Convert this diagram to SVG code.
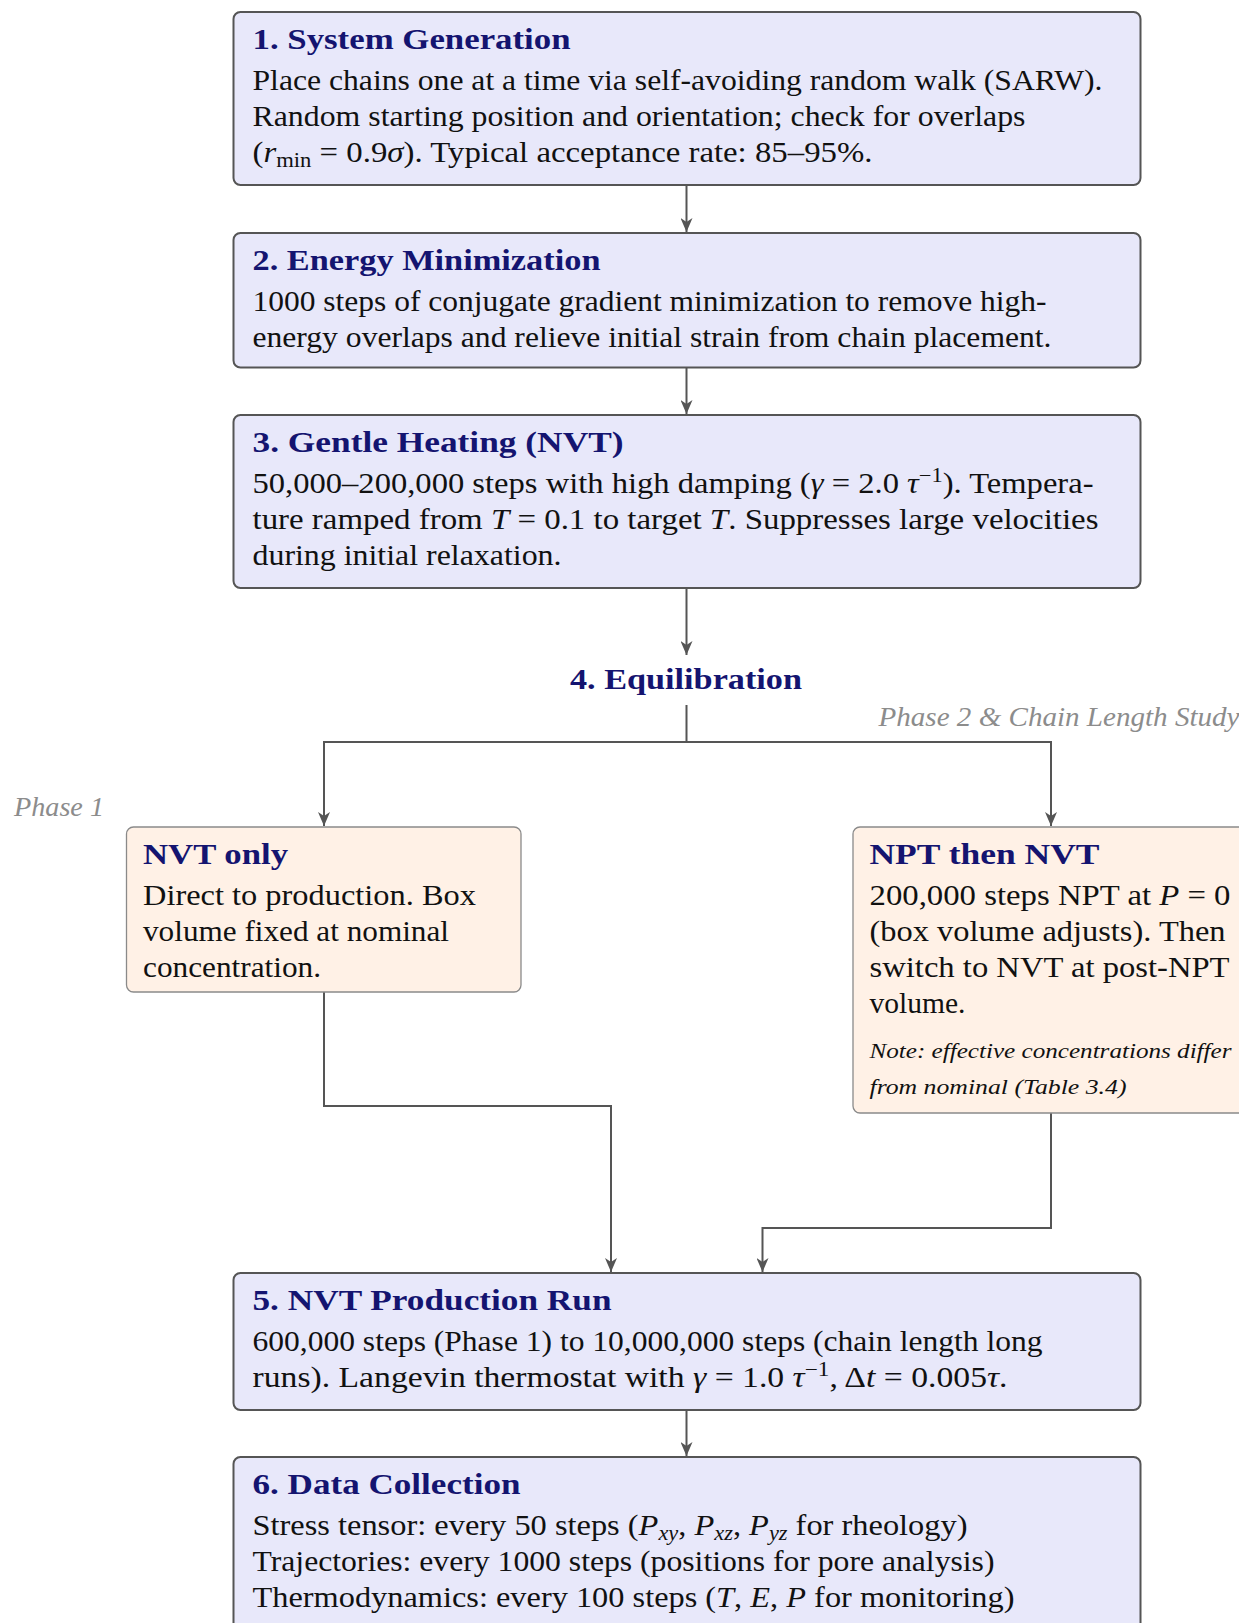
<svg xmlns="http://www.w3.org/2000/svg" width="1239" height="1623" viewBox="0 0 1239 1623">
<style>
.main{fill:#e8e8fa;stroke:#555;stroke-width:2}
.alt{fill:#fff1e6;stroke:#8a8a8a;stroke-width:1.3}
.ttl{font-family:"Liberation Serif",serif;font-weight:bold;font-size:29px;fill:#141470}
.txt{font-family:"Liberation Serif",serif;font-size:29px;fill:#111}
.note{font-family:"Liberation Serif",serif;font-style:italic;font-size:21px;fill:#111}
.ph{font-family:"Liberation Serif",serif;font-style:italic;font-size:27px;fill:#8c8c8c}
.i{font-style:italic}
.con{fill:none;stroke:#555;stroke-width:2}
</style>
<defs>
<marker id="ar" markerUnits="userSpaceOnUse" markerWidth="15" markerHeight="12" viewBox="0 0 15 12" refX="14" refY="6" orient="auto">
<path d="M0,0 L14,6 L0,12 L4,6 Z" fill="#555"/>
</marker>
</defs>

<g id="connectors">
<path class="con" d="M686.5,185 V232" marker-end="url(#ar)"/>
<path class="con" d="M686.5,367.5 V414" marker-end="url(#ar)"/>
<path class="con" d="M686.5,588 V655" marker-end="url(#ar)"/>
<path class="con" d="M686.5,705 V742 H324 V826" marker-end="url(#ar)"/>
<path class="con" d="M686.5,742 H1051 V826" marker-end="url(#ar)"/>
<path class="con" d="M324,992 V1106 H611 V1272" marker-end="url(#ar)"/>
<path class="con" d="M1051,1113 V1228 H762.5 V1272" marker-end="url(#ar)"/>
<path class="con" d="M686.5,1410 V1456" marker-end="url(#ar)"/>
</g>

<g id="n1">
<rect class="main" x="233.5" y="12" width="907" height="173" rx="7"/>
<text class="ttl" x="252.5" y="49" textLength="318" lengthAdjust="spacingAndGlyphs">1. System Generation</text>
<text class="txt" x="252.5" y="90" textLength="850" lengthAdjust="spacingAndGlyphs">Place chains one at a time via self-avoiding random walk (SARW).</text>
<text class="txt" x="252.5" y="126" textLength="773" lengthAdjust="spacingAndGlyphs">Random starting position and orientation; check for overlaps</text>
<text class="txt" x="252.5" y="162" textLength="620" lengthAdjust="spacingAndGlyphs">(<tspan class="i">r</tspan><tspan dy="5" font-size="20">min</tspan><tspan dy="-5"> = 0.9</tspan><tspan class="i">σ</tspan>).  Typical acceptance rate:  85–95%.</text>
</g>

<g id="n2">
<rect class="main" x="233.5" y="233" width="907" height="134.5" rx="7"/>
<text class="ttl" x="252.5" y="270" textLength="348" lengthAdjust="spacingAndGlyphs">2. Energy Minimization</text>
<text class="txt" x="252.5" y="311" textLength="794" lengthAdjust="spacingAndGlyphs">1000 steps of conjugate gradient minimization to remove high-</text>
<text class="txt" x="252.5" y="347" textLength="799" lengthAdjust="spacingAndGlyphs">energy overlaps and relieve initial strain from chain placement.</text>
</g>

<g id="n3">
<rect class="main" x="233.5" y="415" width="907" height="173" rx="7"/>
<text class="ttl" x="252.5" y="452" textLength="371" lengthAdjust="spacingAndGlyphs">3. Gentle Heating (NVT)</text>
<text class="txt" x="252.5" y="493" textLength="841" lengthAdjust="spacingAndGlyphs">50,000–200,000 steps with high damping (<tspan class="i">γ</tspan> = 2.0 <tspan class="i">τ</tspan><tspan dy="-11" font-size="20">−1</tspan><tspan dy="11">).  Tempera-</tspan></text>
<text class="txt" x="252.5" y="529" textLength="846" lengthAdjust="spacingAndGlyphs">ture ramped from <tspan class="i">T</tspan> = 0.1 to target <tspan class="i">T</tspan>.  Suppresses large velocities</text>
<text class="txt" x="252.5" y="565" textLength="309" lengthAdjust="spacingAndGlyphs">during initial relaxation.</text>
</g>

<g id="n4">
<text class="ttl" x="686" y="689" text-anchor="middle" textLength="232" lengthAdjust="spacingAndGlyphs">4. Equilibration</text>
<text class="ph" x="878.5" y="726" textLength="361" lengthAdjust="spacingAndGlyphs">Phase 2 &amp; Chain Length Study</text>
<text class="ph" x="14" y="816" textLength="90" lengthAdjust="spacingAndGlyphs">Phase 1</text>
</g>

<g id="n4a">
<rect class="alt" x="126.5" y="827" width="394.5" height="165" rx="7"/>
<text class="ttl" x="143" y="864" textLength="145" lengthAdjust="spacingAndGlyphs">NVT only</text>
<text class="txt" x="143" y="905" textLength="333" lengthAdjust="spacingAndGlyphs">Direct to production.  Box</text>
<text class="txt" x="143" y="941" textLength="306" lengthAdjust="spacingAndGlyphs">volume fixed at nominal</text>
<text class="txt" x="143" y="977" textLength="178" lengthAdjust="spacingAndGlyphs">concentration.</text>
</g>

<g id="n4b">
<rect class="alt" x="853" y="827" width="395" height="286" rx="7"/>
<text class="ttl" x="869.5" y="864" textLength="230" lengthAdjust="spacingAndGlyphs">NPT then NVT</text>
<text class="txt" x="869.5" y="905" textLength="361" lengthAdjust="spacingAndGlyphs">200,000 steps NPT at <tspan class="i">P</tspan> = 0</text>
<text class="txt" x="869.5" y="941" textLength="356" lengthAdjust="spacingAndGlyphs">(box volume adjusts).  Then</text>
<text class="txt" x="869.5" y="977" textLength="360" lengthAdjust="spacingAndGlyphs">switch to NVT at post-NPT</text>
<text class="txt" x="869.5" y="1013" textLength="96" lengthAdjust="spacingAndGlyphs">volume.</text>
<text class="note" x="869.5" y="1058" textLength="362" lengthAdjust="spacingAndGlyphs">Note:  effective concentrations differ</text>
<text class="note" x="869.5" y="1094" textLength="257" lengthAdjust="spacingAndGlyphs">from nominal (Table 3.4)</text>
</g>

<g id="n5">
<rect class="main" x="233.5" y="1273" width="907" height="137" rx="7"/>
<text class="ttl" x="252.5" y="1310" textLength="359" lengthAdjust="spacingAndGlyphs">5. NVT Production Run</text>
<text class="txt" x="252.5" y="1351" textLength="790" lengthAdjust="spacingAndGlyphs">600,000 steps (Phase 1) to 10,000,000 steps (chain length long</text>
<text class="txt" x="252.5" y="1387" textLength="755" lengthAdjust="spacingAndGlyphs">runs).  Langevin thermostat with <tspan class="i">γ</tspan> = 1.0 <tspan class="i">τ</tspan><tspan dy="-11" font-size="20">−1</tspan><tspan dy="11">, Δ</tspan><tspan class="i">t</tspan> = 0.005<tspan class="i">τ</tspan>.</text>
</g>

<g id="n6">
<rect class="main" x="233.5" y="1457" width="907" height="200" rx="7"/>
<text class="ttl" x="252.5" y="1494" textLength="268" lengthAdjust="spacingAndGlyphs">6. Data Collection</text>
<text class="txt" x="252.5" y="1535" textLength="715" lengthAdjust="spacingAndGlyphs">Stress tensor:  every 50 steps (<tspan class="i">P</tspan><tspan class="i" dy="5" font-size="20">xy</tspan><tspan dy="-5">, </tspan><tspan class="i">P</tspan><tspan class="i" dy="5" font-size="20">xz</tspan><tspan dy="-5">, </tspan><tspan class="i">P</tspan><tspan class="i" dy="5" font-size="20">yz</tspan><tspan dy="-5"> for rheology)</tspan></text>
<text class="txt" x="252.5" y="1571" textLength="742" lengthAdjust="spacingAndGlyphs">Trajectories:  every 1000 steps (positions for pore analysis)</text>
<text class="txt" x="252.5" y="1607" textLength="762" lengthAdjust="spacingAndGlyphs">Thermodynamics:  every 100 steps (<tspan class="i">T</tspan>, <tspan class="i">E</tspan>, <tspan class="i">P</tspan> for monitoring)</text>
</g>
</svg>
